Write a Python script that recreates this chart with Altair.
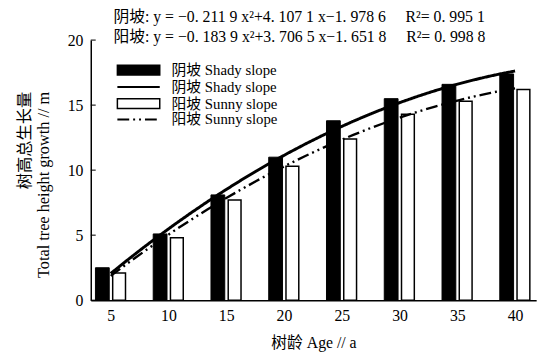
import altair as alt
import pandas as pd

# ---- data ----
ages = [5, 10, 15, 20, 25, 30, 35, 40]
shady = [2.5, 5.1, 8.1, 11.0, 13.8, 15.5, 16.6, 17.4]
sunny = [2.1, 4.8, 7.7, 10.3, 12.4, 14.3, 15.3, 16.2]
series_names = ["阴坡 Shady slope", "阳坡 Sunny slope"]
line_names = ["阴坡 Shady slope ", "阳坡 Sunny slope "]
y_ticks = [0, 5, 10, 15, 20]
NB = "\u00a0"
eq_lines = [
    f"阴坡:{NB}y{NB}={NB}−0.{NB}211{NB}9{NB}x²+4.{NB}107{NB}1{NB}x−1.{NB}978{NB}6{NB*5}R²={NB}0.{NB}995{NB}1",
    f"阳坡:{NB}y{NB}={NB}−0.{NB}183{NB}9{NB}x²+3.{NB}706{NB}5{NB}x−1.{NB}651{NB}8{NB*5}R²={NB}0.{NB}998{NB}8",
]

df = pd.DataFrame({
    "age": ages + ages,
    "height": shady + sunny,
    "series": [series_names[0]] * len(ages) + [series_names[1]] * len(ages),
    "line_series": [line_names[0]] * len(ages) + [line_names[1]] * len(ages),
})
ticks_df = pd.DataFrame({"v": y_ticks})

SERIF = "Liberation Serif, Noto Sans CJK SC"

x_scale = alt.Scale(domain=[3.7, 41.4], nice=False, zero=False)
y_scale = alt.Scale(domain=[0, 20], nice=False)

x_enc = alt.X("age:Q", scale=x_scale, axis=alt.Axis(
    values=ages, tickSize=0, grid=False, domainColor="black", domainWidth=1.5,
    labelFont=SERIF, labelFontSize=16, labelColor="black", labelPadding=8,
    title="树龄 Age // a", titleFont=SERIF, titleFontSize=16, titleFontWeight="normal",
    titleColor="black", titlePadding=11))
y_enc = alt.Y("height:Q", scale=y_scale, axis=alt.Axis(
    values=y_ticks, tickSize=0, grid=False, domainColor="black", domainWidth=1.5,
    labelFont=SERIF, labelFontSize=16, labelColor="black", labelPadding=8,
    title=["树高总生长量", "Total tree height growth // m"], titleFont=SERIF,
    titleFontSize=16.5, titleFontWeight="normal", titleColor="black",
    titleAlign="right", titleBaseline="top", titleX=-75, titleY=52, titleLineHeight=19))

fill_legend = alt.Legend(
    title=None, orient="none", legendX=41, legendY=23, direction="vertical",
    symbolType="M-4.3,-1H4.3V1H-4.3Z", symbolSize=100, symbolStrokeColor="black",
    symbolStrokeWidth=1.5, labelFont=SERIF, labelFontSize=15, labelColor="black",
    labelOffset=26, rowPadding=17, padding=0)
fill_scale = alt.Scale(domain=series_names, range=["black", "white"])

dash_legend = alt.Legend(
    title=None, orient="none", legendX=41, legendY=40, direction="vertical",
    symbolType="M-4.3,0H4.3", symbolSize=100, symbolStrokeColor="black",
    symbolFillColor="transparent", symbolStrokeWidth=2, labelFont=SERIF,
    labelFontSize=15, labelColor="black", labelOffset=26, rowPadding=17, padding=0)
dash_scale = alt.Scale(domain=line_names, range=[[1, 0], [12, 4, 2, 4, 2, 4]])

base = alt.Chart(df)

shady_bars = base.transform_filter(alt.datum.series == series_names[0]).mark_bar(
    size=14, xOffset=-8.5, stroke="black", strokeWidth=1).encode(
    x=x_enc, y=y_enc, fill=alt.Fill("series:N", scale=fill_scale, legend=fill_legend))
sunny_bars = base.transform_filter(alt.datum.series == series_names[1]).mark_bar(
    size=13, xOffset=8.5, stroke="black", strokeWidth=1.5).encode(
    x=x_enc, y=y_enc, fill=alt.Fill("series:N", scale=fill_scale, legend=fill_legend))

def fit_line(name, width):
    return base.transform_filter(alt.datum.line_series == name).transform_regression(
        "age", "height", method="poly", order=2, groupby=["line_series"], extent=[5, 40]
    ).mark_line(color="black", strokeWidth=width).encode(
        x=alt.X("age:Q", scale=x_scale),
        y=alt.Y("height:Q", scale=y_scale),
        strokeDash=alt.StrokeDash("line_series:N", scale=dash_scale, legend=dash_legend))

shady_line = fit_line(line_names[0], 3)
sunny_line = fit_line(line_names[1], 2.4)

inner_ticks = alt.Chart(ticks_df).mark_tick(orient="horizontal", size=5, thickness=1.5, color="black").encode(
    y=alt.Y("v:Q", scale=y_scale), x=alt.value(2.5))

chart = alt.layer(shady_bars, sunny_bars, shady_line, sunny_line, inner_ticks).properties(
    width=452, height=264,
    title=alt.Title(text=eq_lines, anchor="start", frame="group", dx=23, offset=-13, font=SERIF,
                    fontSize=16, fontWeight="normal", color="black", lineHeight=20),
    autosize=alt.AutoSizeParams(type="none"),
    padding={"left": 84, "top": 30, "right": 11, "bottom": 56},
    background="white",
).configure_view(stroke=None)

chart.save("out.html", embed_options={"renderer": "svg", "actions": False})
